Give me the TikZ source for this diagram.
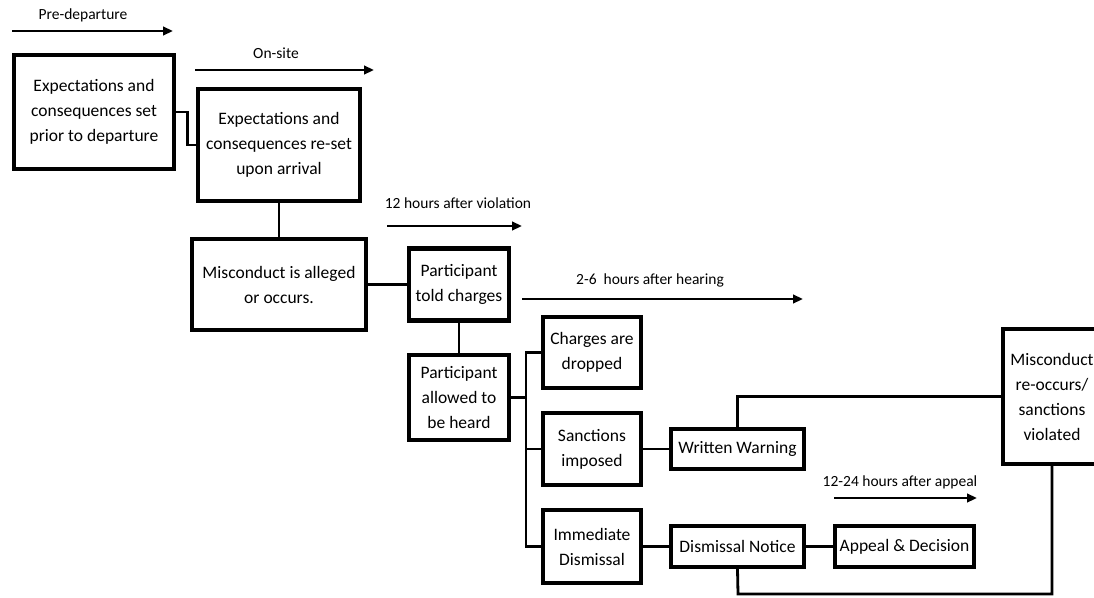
\documentclass[tikz,border=0pt]{standalone}
\usepackage{fontspec}
\setmainfont{Carlito}
\usetikzlibrary{arrows.meta}
\tikzset{
  box/.style={draw, line width=4.2pt, align=center, inner sep=0pt,
    font=\fontsize{17.5}{25}\selectfont},
  conn/.style={line width=2.8pt},
  timearrow/.style={line width=2.8pt, -{Triangle[length=10pt,width=8.5pt]}},
  lbl/.style={inner sep=0pt, font=\fontsize{15.5}{18}\selectfont}
}
\begin{document}
\begin{tikzpicture}[x=1pt,y=-1pt]
\useasboundingbox (0,0) rectangle (1094,597);
% boxes
\node[box, minimum width=160pt, minimum height=114pt] (b1) at (94,112) {Expectations and\\consequences set\\prior to departure};
\node[box, minimum width=162pt, minimum height=112pt] (b2) at (279,145) {Expectations and\\consequences re-set\\upon arrival};
\node[box, minimum width=174pt, minimum height=91pt] (b3) at (279,284.5) {Misconduct is alleged\\or occurs.};
\node[box, minimum width=100pt, minimum height=72pt] (b4) at (459,284.5) {Participant\\told charges};
\node[box, minimum width=100pt, minimum height=85pt] (b5) at (459,397.5) {Participant\\allowed to\\be heard};
\node[box, minimum width=98pt, minimum height=71pt] (b6) at (592,352.5) {Charges are\\dropped};
\node[box, minimum width=98pt, minimum height=72pt] (b7) at (592,449) {Sanctions\\imposed};
\node[box, minimum width=98pt, minimum height=73pt] (b8) at (592,546.5) {Immediate\\Dismissal};
\node[box, minimum width=133pt, minimum height=40pt] (b9) at (737.5,449) {Written Warning};
\node[box, minimum width=133pt, minimum height=41pt] (b10) at (737.5,546.5) {Dismissal Notice};
\node[box, minimum width=139pt, minimum height=41pt] (b11) at (904.5,546.5) {Appeal \& Decision};
\node[box, minimum width=98pt, minimum height=135pt] (b12) at (1052,396.5) {Misconduct\\re-occurs/\\sanctions\\violated};
% connectors
\draw[conn] (b1.east) -- ++(11,0) |- (b2.west);
\draw[conn] (b2.south) -- (b3.north);
\draw[conn] (b3.east) -- (b4.west);
\draw[conn] (b4.south) -- (b5.north);
\coordinate (bustop) at (526,352.5);
\coordinate (busbot) at (526,546.5);
\draw[conn] (b6.west) -- (bustop) -- (busbot) -- (b8.west);
\draw[conn] (b5.east) -- (bustop |- b5.east);
\draw[conn] (bustop |- b7.west) -- (b7.west);
\draw[conn] (b7.east) -- (b9.west);
\draw[conn] (b9.north) |- (b12.west);
\draw[conn] (b8.east) -- (b10.west);
\draw[conn] (b10.east) -- (b11.west);
\coordinate (loop) at (738,594);
\draw[conn] (b10.south) -- (loop) -| (b12.south);
% time arrows
\coordinate (a1s) at (12,31);  \coordinate (a1e) at (173,31);
\coordinate (a2s) at (195,70); \coordinate (a2e) at (374,70);
\coordinate (a3s) at (387,226); \coordinate (a3e) at (522,226);
\coordinate (a4s) at (522,299); \coordinate (a4e) at (803,299);
\coordinate (a5s) at (834,498); \coordinate (a5e) at (977,498);
\draw[timearrow] (a1s) -- (a1e);
\draw[timearrow] (a2s) -- (a2e);
\draw[timearrow] (a3s) -- (a3e);
\draw[timearrow] (a4s) -- (a4e);
\draw[timearrow] (a5s) -- (a5e);
\node[lbl] (l1) at (83,15) {Pre-departure};
\node[lbl] (l2) at (276,53) {On-site};
\node[lbl] (l3) at (458,203) {12 hours after violation};
\node[lbl] (l4) at (650,280) {2-6\ \ hours after hearing};
\node[lbl] (l5) at (900,482) {12-24 hours after appeal};
\end{tikzpicture}
\end{document}
